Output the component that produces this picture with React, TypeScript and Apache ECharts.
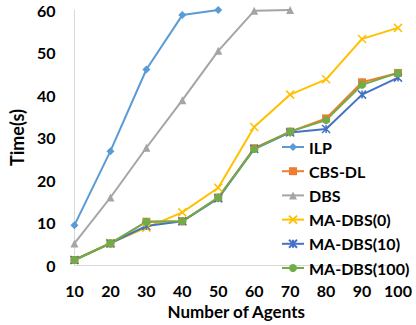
import React, { useEffect, useRef } from "react";
import * as echarts from "echarts";

const categories = ["10", "20", "30", "40", "50", "60", "70", "80", "90", "100"];
const ilp = [9.4, 26.8, 46, 58.8, 60];
const cbsdl = [1.2, 5.1, 10.2, 10.3, 15.9, 27.5, 31.4, 34.5, 43.0, 45.2];
const dbs = [5.1, 15.9, 27.6, 38.8, 50.4, 59.8, 60];
const madbs0 = [1.2, 5.2, 8.8, 12.4, 18.2, 32.5, 40.1, 43.7, 53.2, 55.8];
const madbs10 = [1.2, 5.1, 9.2, 10.3, 15.7, 27.3, 31.2, 32.0, 40.1, 44.1];
const madbs100 = [1.2, 5.1, 10.2, 10.3, 15.9, 27.3, 31.4, 34.1, 42.4, 45.2];
const seriesNames = ["ILP", "CBS-DL", "DBS", "MA-DBS(0)", "MA-DBS(10)", "MA-DBS(100)"];
const colors = ["#5B9BD5", "#ED7D31", "#A5A5A5", "#FFC000", "#4472C4", "#70AD47"];

const FONT = "Lato";

export default function App() {
  const ref = useRef<HTMLDivElement>(null);
  useEffect(() => {
    document.body.style.margin = "0";
    if (!ref.current) return;
    const chart = echarts.init(ref.current, undefined, { renderer: "svg" });
    const datas = [ilp, cbsdl, dbs, madbs0, madbs10, madbs100];
    const symbols = [
      "diamond",
      "rect",
      "triangle",
      "path://M0,0L10,10M10,0L0,10",
      "path://M0,0L10,10M10,0L0,10M5,0L5,10",
      "circle",
    ];
    const sizes = [8, 8, 8, 8, 8, 8];
    chart.setOption({
      animation: false,
      textStyle: { fontFamily: FONT },
      grid: { left: 72, right: 18, top: 10, bottom: 53, containLabel: false },
      legend: {
        orient: "vertical",
        left: 276,
        top: 134,
        itemWidth: 22,
        itemHeight: 10,
        itemGap: 8.2,
        data: seriesNames,
        textStyle: { fontFamily: FONT, fontWeight: "bold", fontSize: 16, color: "#000" },
      },
      xAxis: {
        type: "category",
        data: categories,
        boundaryGap: false,
        name: "Number of Agents",
        nameLocation: "middle",
        nameGap: 32,
        nameTextStyle: { fontFamily: FONT, fontWeight: "bold", fontSize: 17, color: "#000" },
        axisLine: { lineStyle: { color: "#D9D9D9", width: 1 } },
        axisTick: { show: false },
        axisLabel: { fontFamily: FONT, fontWeight: "bold", fontSize: 16, color: "#000", margin: 17, interval: 0, hideOverlap: false },
        splitLine: { show: false },
      },
      yAxis: {
        type: "value",
        min: 0,
        max: 60,
        interval: 10,
        name: "Time(s)",
        nameLocation: "middle",
        nameGap: 44,
        nameTextStyle: { fontFamily: FONT, fontWeight: "bold", fontSize: 18, color: "#000" },
        axisLine: { show: true, lineStyle: { color: "#D9D9D9", width: 1 } },
        axisTick: { show: false },
        axisLabel: { fontFamily: FONT, fontWeight: "bold", fontSize: 16, color: "#000", margin: 19 },
        splitLine: { show: false },
      },
      series: seriesNames.map((n, i) => ({
        name: n,
        type: "line",
        data: datas[i],
        symbol: symbols[i],
        symbolSize: sizes[i],
        showAllSymbol: true,
        lineStyle: { color: colors[i], width: 2 },
        itemStyle: { color: colors[i], borderColor: colors[i], borderWidth: i === 3 || i === 4 ? 1.5 : 0 },
      })),
    });
    return () => chart.dispose();
  }, []);
  return <div ref={ref} style={{ width: 416, height: 325 }} />;
}
